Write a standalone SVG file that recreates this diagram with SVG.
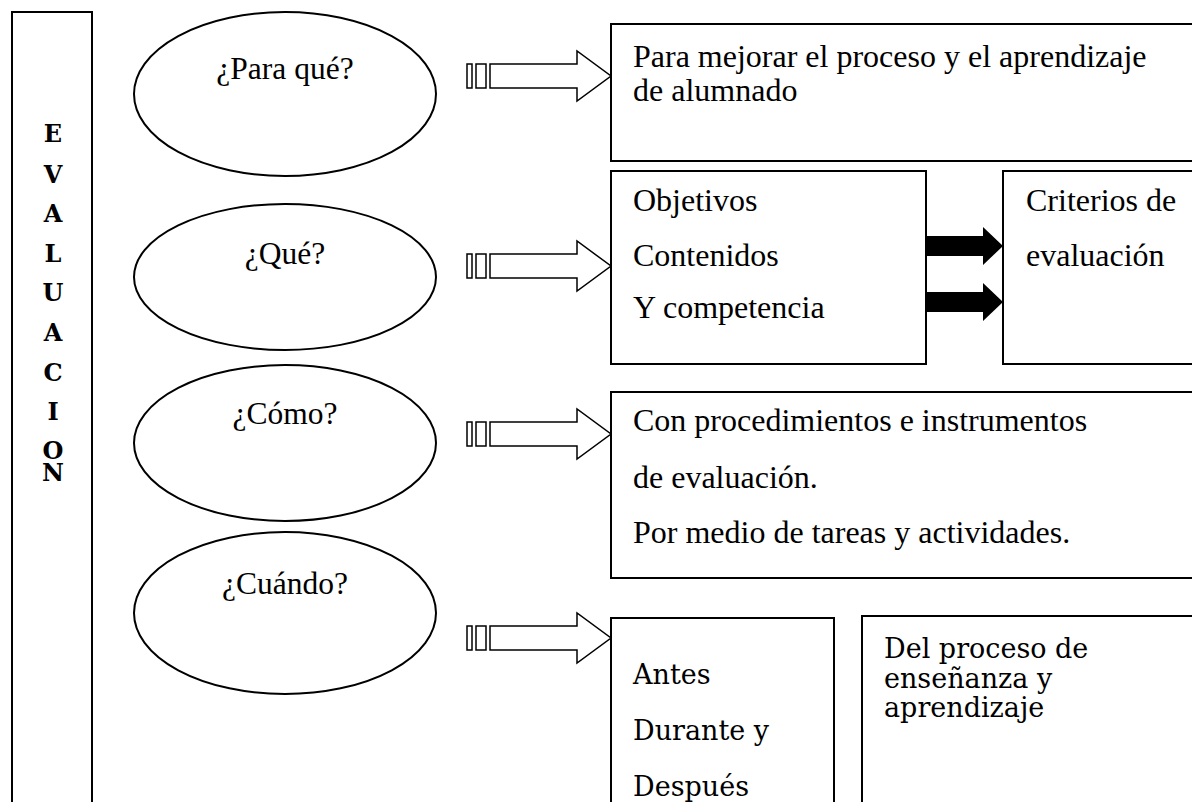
<svg xmlns="http://www.w3.org/2000/svg" width="1192" height="802" viewBox="0 0 1192 802">
<style>
.bx{fill:#fff;stroke:#000;stroke-width:2}
.el{fill:#fff;stroke:#000;stroke-width:2}
.t{font-family:"Liberation Serif","Times New Roman",serif;font-size:32px;fill:#000}
.q{font-family:"Liberation Serif","Times New Roman",serif;font-size:31.5px;fill:#000;text-anchor:middle}
.c{font-family:"DejaVu Serif",serif;font-size:27px;fill:#000}
.v{font-family:"DejaVu Serif",serif;font-weight:bold;font-size:24px;fill:#000;text-anchor:middle}
.ha{fill:#fff;stroke:#000;stroke-width:1.5}
.ba{fill:#000;stroke:none}
</style>
<defs>
<g id="hollow">
<rect class="ha" x="467" y="-12" width="5" height="24"/>
<rect class="ha" x="476" y="-12" width="10" height="24"/>
<polygon class="ha" points="490,-12 577,-12 577,-25 611,0 577,25 577,12 490,12"/>
</g>
<polygon id="solid" class="ba" points="926,-10 983,-10 983,-19 1003,0 983,19 983,10 926,10"/>
</defs>
<rect width="1192" height="802" fill="#fff"/>
<g id="evaluacion">
<rect class="bx" x="12" y="12" width="80" height="800"/>
<text class="v" x="53" y="142">E</text>
<text class="v" x="53" y="183">V</text>
<text class="v" x="53" y="222">A</text>
<text class="v" x="53" y="262">L</text>
<text class="v" x="53" y="301">U</text>
<text class="v" x="53" y="341">A</text>
<text class="v" x="53" y="381">C</text>
<text class="v" x="53" y="420">I</text>
<text class="v" x="53" y="459">O</text>
<text class="v" x="53" y="481">N</text>
</g>
<g id="q-paraque">
<ellipse class="el" cx="285" cy="94" rx="151" ry="82"/>
<text class="q" x="285" y="79">¿Para qué?</text>
</g>
<g id="q-que">
<ellipse class="el" cx="285" cy="277" rx="151" ry="73"/>
<text class="q" x="285" y="264">¿Qué?</text>
</g>
<g id="q-como">
<ellipse class="el" cx="285" cy="443" rx="151" ry="78"/>
<text class="q" x="285" y="424">¿Cómo?</text>
</g>
<g id="q-cuando">
<ellipse class="el" cx="285" cy="613" rx="151" ry="81"/>
<text class="q" x="285" y="594">¿Cuándo?</text>
</g>
<g id="a-paraque">
<rect class="bx" x="611" y="24" width="600" height="137"/>
<text class="t" x="633" y="67">Para mejorar el proceso y el aprendizaje</text>
<text class="t" x="633" y="101">de alumnado</text>
</g>
<g id="a-que">
<rect class="bx" x="611" y="171" width="315" height="193"/>
<text class="t" x="633" y="211">Objetivos</text>
<text class="t" x="633" y="266">Contenidos</text>
<text class="t" x="633" y="318">Y competencia</text>
</g>
<g id="criterios">
<rect class="bx" x="1003" y="171" width="210" height="193"/>
<text class="t" x="1026" y="211">Criterios de</text>
<text class="t" x="1026" y="266">evaluación</text>
</g>
<g id="a-como">
<rect class="bx" x="611" y="392" width="600" height="186"/>
<text class="t" x="633" y="431">Con procedimientos e instrumentos</text>
<text class="t" x="633" y="488">de evaluación.</text>
<text class="t" x="633" y="543">Por medio de tareas y actividades.</text>
</g>
<g id="a-cuando">
<rect class="bx" x="611" y="618" width="223" height="200"/>
<text class="c" x="633" y="684">Antes</text>
<text class="c" x="633" y="740">Durante y</text>
<text class="c" x="633" y="796">Después</text>
</g>
<g id="proceso">
<rect class="bx" x="862" y="616" width="350" height="200"/>
<text class="c" x="884" y="658">Del proceso de</text>
<text class="c" x="884" y="688">enseñanza y</text>
<text class="c" x="884" y="717">aprendizaje</text>
</g>
<g id="connectors">
<use href="#hollow" y="76"/>
<use href="#hollow" y="266"/>
<use href="#hollow" y="434"/>
<use href="#hollow" y="638"/>
<use href="#solid" y="246"/>
<use href="#solid" y="302"/>
</g>
</svg>
